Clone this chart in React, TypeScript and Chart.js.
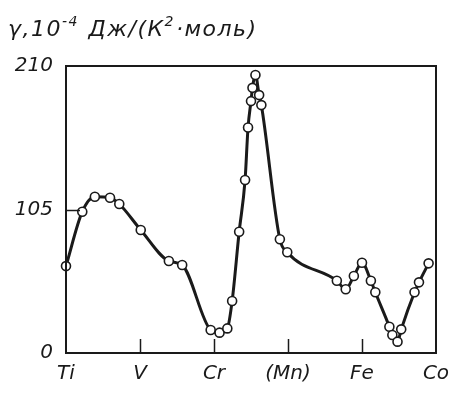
import React, { useEffect, useRef } from "react";
import { Chart, registerables } from "chart.js";

Chart.register(...registerables);

const categories = ["Ti", "V", "Cr", "(Mn)", "Fe", "Co"];
const yTickValues = [0, 105, 210];
const innerXTicks = [1, 2, 3, 4];
const innerYTicks = [105];
// title pieces: [text, isSuperscript]
const titleParts: [string, boolean][] = [
  ["γ,10", false],
  ["-4", true],
  [" Дж/(К", false],
  ["2", true],
  ["·моль)", false],
];

const xPositions = [
  0, 0.22, 0.39, 0.595, 0.72, 1.01, 1.39, 1.57, 1.955, 2.075, 2.18, 2.245,
  2.34, 2.42, 2.46, 2.5, 2.52, 2.56, 2.61, 2.64, 2.89, 2.99, 3.66, 3.78, 3.89,
  4.0, 4.12, 4.18, 4.37, 4.41, 4.48, 4.53, 4.71, 4.77, 4.9,
];
const gammaValues = [
  63.6, 103.4, 114.3, 113.6, 109, 90, 67.3, 64.4, 16.8, 14.9, 18, 38, 88.7,
  126.6, 165, 184.3, 194, 203.4, 188.7, 181.4, 83.2, 73.7, 52.9, 46.6, 56.3,
  66, 52.9, 44.4, 19.2, 13.2, 8.3, 17.3, 44.4, 51.7, 65.6,
];

const FONT = "'DejaVu Sans', sans-serif";
const INK = "#1a1a1a";

export default function App() {
  const ref = useRef<HTMLCanvasElement>(null);

  useEffect(() => {
    document.body.style.margin = "0";
    const canvas = ref.current;
    if (!canvas) return;

    const framePlugin = {
      id: "frame",
      afterDraw(chart: any) {
        const { ctx, chartArea } = chart;
        const xs = chart.scales.x;
        const ys = chart.scales.y;
        ctx.save();
        ctx.strokeStyle = INK;
        ctx.lineWidth = 2;
        ctx.strokeRect(
          chartArea.left,
          chartArea.top,
          chartArea.right - chartArea.left,
          chartArea.bottom - chartArea.top
        );
        ctx.lineWidth = 1.5;
        innerXTicks.forEach((v) => {
          const px = Math.round(xs.getPixelForValue(v)) + 0.5;
          ctx.beginPath();
          ctx.moveTo(px, chartArea.bottom);
          ctx.lineTo(px, chartArea.bottom - 14);
          ctx.stroke();
        });
        innerYTicks.forEach((v) => {
          const py = Math.round(ys.getPixelForValue(v)) + 0.5;
          ctx.beginPath();
          ctx.moveTo(chartArea.left, py);
          ctx.lineTo(chartArea.left + 14, py);
          ctx.stroke();
        });
        ctx.fillStyle = INK;
        ctx.textBaseline = "alphabetic";
        ctx.textAlign = "left";
        try {
          (ctx as any).letterSpacing = "1.5px";
        } catch (e) {}
        let x = 8;
        titleParts.forEach(([t, sup]) => {
          ctx.font = (sup ? "italic 14px " : "italic 22px ") + FONT;
          ctx.fillText(t, x, sup ? 26 : 36);
          x += ctx.measureText(t).width + (sup ? 1 : 0);
        });
        ctx.restore();
      },
    };

    const chart = new Chart(canvas, {
      type: "scatter",
      data: {
        datasets: [
          {
            data: xPositions.map((x, i) => ({ x, y: gammaValues[i] })),
            showLine: true,
            borderColor: INK,
            borderWidth: 3,
            cubicInterpolationMode: "monotone",
            pointRadius: 4.5,
            pointBorderWidth: 1.6,
            pointBackgroundColor: "#ffffff",
            pointBorderColor: INK,
            clip: false,
          } as any,
        ],
      },
      options: {
        responsive: false,
        animation: false,
        devicePixelRatio: 1,
        layout: { padding: { top: 66, right: 13, left: 0, bottom: 0 } },
        plugins: {
          legend: { display: false },
          tooltip: { enabled: false },
          title: { display: false },
        },
        scales: {
          x: {
            type: "linear",
            min: 0,
            max: 5,
            afterFit: (s: any) => {
              s.height = 40;
              s.paddingLeft = 0;
              s.paddingRight = 0;
            },
            afterBuildTicks: (s: any) => {
              s.ticks = categories.map((_, i) => ({ value: i }));
            },
            grid: { display: false, drawTicks: false },
            border: { display: false },
            ticks: {
              padding: 9,
              color: INK,
              font: { family: FONT, size: 20, style: "italic" },
              maxRotation: 0,
              autoSkip: false,
              callback: (v: any) => categories[v] ?? "",
            },
          },
          y: {
            min: 0,
            max: 210,
            afterFit: (s: any) => {
              s.width = 66;
              s.paddingTop = 0;
              s.paddingBottom = 0;
            },
            afterBuildTicks: (s: any) => {
              s.ticks = yTickValues.map((value) => ({ value }));
            },
            grid: { display: false, drawTicks: false },
            border: { display: false },
            ticks: {
              padding: 13,
              color: INK,
              font: { family: FONT, size: 20, style: "italic" },
            },
          },
        },
      },
      plugins: [framePlugin],
    });

    return () => chart.destroy();
  }, []);

  return (
    <div style={{ width: 449, height: 393 }}>
      <canvas ref={ref} width={449} height={393} />
    </div>
  );
}
